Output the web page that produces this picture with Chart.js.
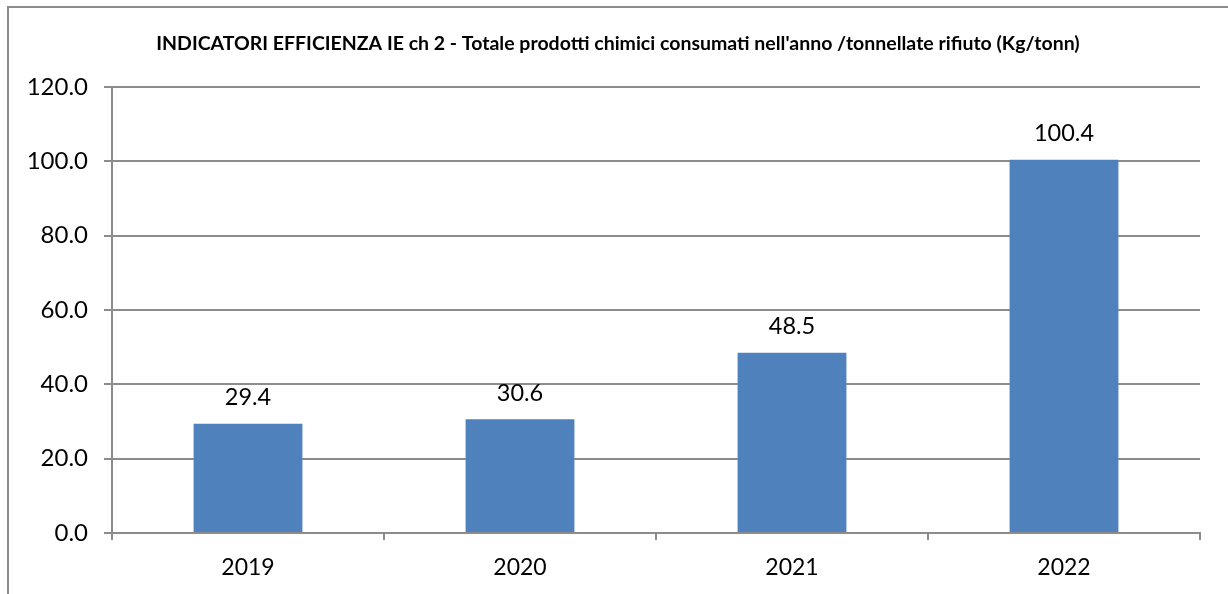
<!DOCTYPE html>
<html>
<head>
<meta charset="utf-8">
<script src="https://cdn.jsdelivr.net/npm/chart.js@4/dist/chart.umd.min.js"></script>
<style>
  html, body { margin: 0; padding: 0; background: #fff; }
  #wrap { width: 1228px; height: 594px; }
</style>
</head>
<body>
<div id="wrap"><canvas id="myChart" width="1228" height="594"></canvas></div>
<script>
let years = ['2019', '2020', '2021', '2022']
let values = [29.4, 30.6, 48.5, 100.4]
let yTicks = [0, 20, 40, 60, 80, 100, 120]
let chartTitle = "INDICATORI EFFICIENZA IE ch 2 - Totale prodotti chimici consumati nell'anno /tonnellate rifiuto (Kg/tonn)"

let fontName = 'Lato, "Open Sans", sans-serif'
let gray = '#8c8c8c'

// frame, title and value labels
let extras = {
    id: 'extras',
    beforeDraw(chart) {
        let ctx = chart.ctx
        ctx.save()
        ctx.strokeStyle = gray
        ctx.lineWidth = 2
        ctx.strokeRect(8, 7, 1400, 800)
        ctx.fillStyle = '#000'
        ctx.font = 'bold 19.5px ' + fontName
        ctx.textAlign = 'center'
        ctx.textBaseline = 'middle'
        ctx.fillText(chartTitle, 618, 44)
        ctx.restore()
    },
    afterDatasetsDraw(chart) {
        let ctx = chart.ctx
        let meta = chart.getDatasetMeta(0)
        ctx.save()
        ctx.fillStyle = '#000'
        ctx.font = '23.5px ' + fontName
        ctx.textAlign = 'center'
        ctx.textBaseline = 'middle'
        meta.data.forEach((bar, i) => {
            ctx.fillText(values[i].toFixed(1), bar.x, bar.y - 26)
        })
        ctx.restore()
    }
}

var ctx = document.getElementById('myChart').getContext('2d');
var chart = new Chart(ctx, {
    type: 'bar',
    data: {
        labels: years,
        datasets: [{
            data: values,
            backgroundColor: '#4f81bd',
            borderWidth: 0,
            barPercentage: 0.4,
            categoryPercentage: 1
        }]
    },
    options: {
        responsive: false,
        animation: false,
        layout: { padding: { left: 0, top: 87, right: 28, bottom: 0 } },
        plugins: { legend: { display: false }, tooltip: { enabled: false } },
        scales: {
            x: {
                grid: { display: true, drawOnChartArea: false, color: gray, lineWidth: 2, tickLength: 7, offset: true },
                border: { color: gray, width: 2 },
                ticks: { color: '#000', font: { family: fontName, size: 23 }, padding: 14 },
                afterFit(scale) { scale.height = 61 }
            },
            y: {
                min: 0,
                max: 120,
                afterBuildTicks(scale) { scale.ticks = yTicks.map(v => ({ value: v })) },
                grid: { color: gray, lineWidth: 2, tickLength: 8 },
                border: { color: gray, width: 2 },
                ticks: {
                    color: '#000',
                    font: { family: fontName, size: 24 },
                    padding: 16,
                    callback: v => Number(v).toFixed(1)
                },
                afterFit(scale) { scale.width = 112 }
            }
        }
    },
    plugins: [extras]
});
</script>
</body>
</html>
